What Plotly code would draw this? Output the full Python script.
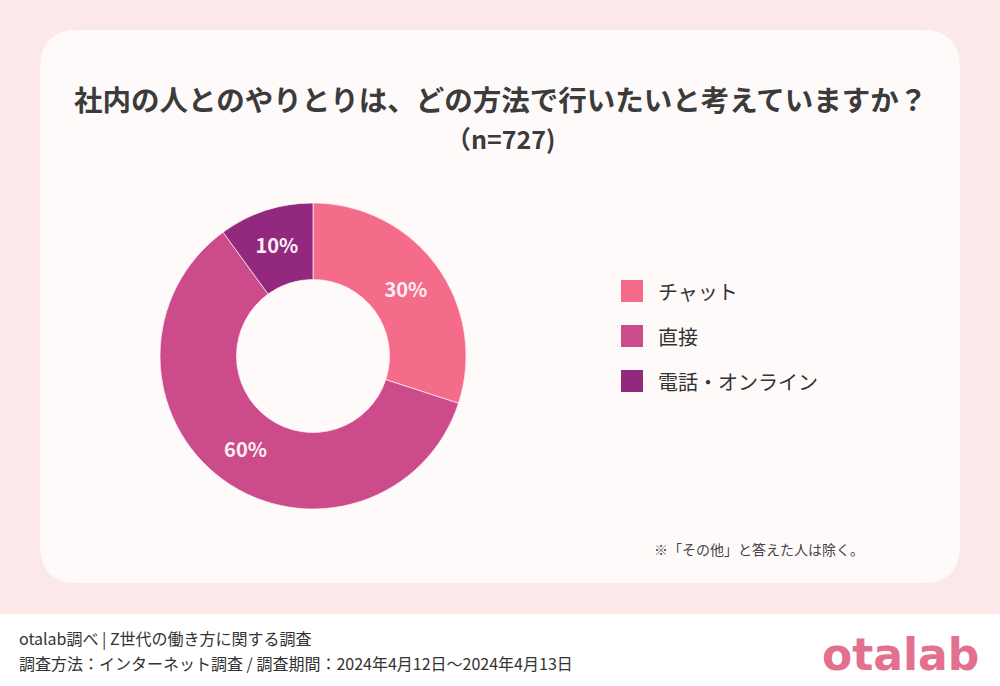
import plotly.graph_objects as go

labels = ["チャット", "直接", "電話・オンライン"]
values = [30, 60, 10]
colors = ["#f56b8a", "#cc4b8b", "#93297f"]

title = "社内の人とのやりとりは、どの方法で行いたいと考えていますか？"
subtitle = "（n=727)"
note = "※「その他」と答えた人は除く。"
footer1 = "otalab調べ | Z世代の働き方に関する調査"
footer2 = "調査方法：インターネット調査 / 調査期間：2024年4月12日〜2024年4月13日"

W, H = 1000, 686
jp = "Noto Sans CJK JP"


def px(x):
    return x / W


def py(y):
    return 1 - y / H


fig = go.Figure(go.Pie(
    labels=labels, values=values,
    hole=0.5, sort=False, direction="clockwise", rotation=0,
    marker=dict(colors=colors, line=dict(color="rgba(255,240,245,0.7)", width=1)),
    texttemplate="%{percent:.0%}", textposition="inside",
    insidetextorientation="horizontal",
    textfont=dict(family=jp, size=20, color="#fdf0f5", weight="bold"),
    domain=dict(x=[px(160), px(466)], y=[py(509), py(203)]),
    showlegend=False, hoverinfo="label+percent",
))

# rounded card
x0, x1, y0, y1, r = 40, 960, 30, 583, 38
rx, ry = r / W, r / H
card = (f"M {px(x0)+rx},{py(y0)} L {px(x1)-rx},{py(y0)} "
        f"Q {px(x1)},{py(y0)} {px(x1)},{py(y0)-ry} "
        f"L {px(x1)},{py(y1)+ry} Q {px(x1)},{py(y1)} {px(x1)-rx},{py(y1)} "
        f"L {px(x0)+rx},{py(y1)} Q {px(x0)},{py(y1)} {px(x0)},{py(y1)+ry} "
        f"L {px(x0)},{py(y0)-ry} Q {px(x0)},{py(y0)} {px(x0)+rx},{py(y0)} Z")

shapes = [
    dict(type="rect", xref="paper", yref="paper", x0=0, x1=1, y0=0, y1=py(614),
         fillcolor="#ffffff", line=dict(width=0), layer="below"),
    dict(type="path", xref="paper", yref="paper", path=card,
         fillcolor="#fffafa", line=dict(width=0), layer="below"),
]

annotations = [
    dict(text=title, x=0.5, y=py(99), font=dict(family=jp, size=28.5, color="#3b3b3b", weight="bold")),
    dict(text=subtitle, x=0.5, y=py(138), font=dict(family=jp, size=25, color="#3b3b3b", weight="bold")),
    dict(text=note, x=px(866), y=py(549), xanchor="right", font=dict(family=jp, size=14, color="#444444")),
    dict(text=footer1, x=px(17), y=py(638), xanchor="left", font=dict(family=jp, size=16, color="#333333")),
    dict(text=footer2, x=px(17), y=py(663), xanchor="left", font=dict(family=jp, size=16, color="#333333")),
    dict(text="otalab", x=px(981), y=py(654), xanchor="right",
         font=dict(family="DejaVu Sans", size=44, color="#e3708f", weight="bold")),
]

# legend built from the label/colour lists
for i, (lab, col) in enumerate(zip(labels, colors)):
    cy = 291 + 45 * i
    shapes.append(dict(type="rect", xref="paper", yref="paper",
                       x0=px(621), x1=px(643), y0=py(cy + 11), y1=py(cy - 11),
                       fillcolor=col, line=dict(width=0)))
    annotations.append(dict(text=lab, x=px(656), y=py(cy), xanchor="left",
                            font=dict(family=jp, size=20, color="#333333")))

for a in annotations:
    a.update(xref="paper", yref="paper", showarrow=False, yanchor="middle")

fig.update_layout(
    width=W, height=H, margin=dict(l=0, r=0, t=0, b=0),
    paper_bgcolor="#fce8e8", plot_bgcolor="#fce8e8",
    shapes=shapes, annotations=annotations,
)
fig.write_html("out.html", config={"displayModeBar": False},
               post_script="document.body.style.margin='0';")
